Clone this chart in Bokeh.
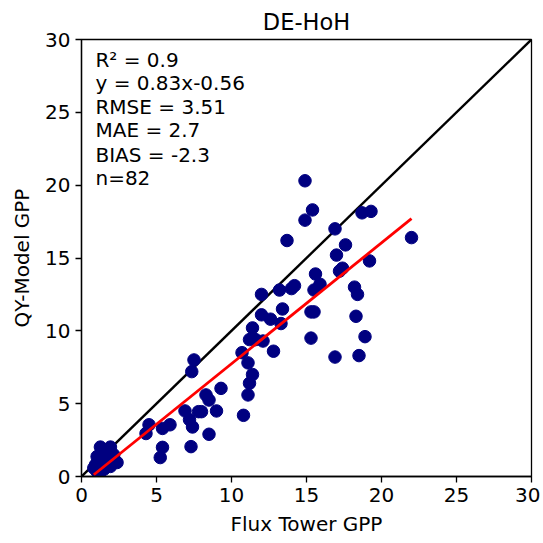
from bokeh.plotting import figure
from bokeh.models import Range1d, ColumnDataSource, FixedTicker
from bokeh.core.properties import value
from bokeh.embed import file_html
from bokeh.resources import INLINE

# Data
flux_gpp = [14.9, 15.4, 14.9, 13.7, 16.9, 18.7, 19.3, 17.6, 17.0, 19.2,
            15.6, 17.4, 17.2, 14.2, 14.0, 13.2, 15.9, 15.5, 18.2, 18.4,
            12.0, 13.4, 12.0, 12.6, 13.3, 15.3, 15.5, 11.4, 18.3, 11.2,
            11.6, 12.1, 15.3, 18.9, 10.7, 12.8, 16.9, 18.5, 22.0, 11.1,
            11.4, 11.2, 11.1, 10.8, 7.5, 7.35, 9.3, 8.3, 8.5, 9.0,
            8.0, 7.8, 6.9, 7.2, 7.4, 8.5, 7.3, 4.5, 4.3, 5.4,
            5.9, 5.4, 5.25,
            1.26, 1.93, 1.04, 1.48, 2.37, 1.93, 0.93, 1.37, 1.7, 1.04,
            0.82, 2.15, 1.6, 1.2, 1.5, 2.0, 1.1, 1.8, 1.3]
model_gpp = [20.3, 18.3, 17.6, 16.2, 17.0, 18.1, 18.2, 15.9, 15.2, 14.8,
             13.9, 14.3, 14.1, 13.1, 12.9, 12.8, 13.2, 12.8, 13.0, 12.5,
             12.5, 11.5, 11.1, 10.8, 10.5, 11.3, 11.3, 10.2, 11.0, 9.4,
             9.4, 9.3, 9.5, 9.6, 8.5, 8.6, 8.2, 8.3, 16.4, 7.8,
             7.0, 6.4, 5.6, 4.2, 8.0, 7.2, 6.05, 5.6, 5.25, 4.5,
             4.45, 4.45, 4.5, 3.9, 3.4, 2.9, 2.05, 3.55, 2.95, 3.3,
             3.55, 2.0, 1.3,
             2.02, 2.02, 1.37, 1.6, 0.96, 0.69, 0.8, 1.03, 1.26, 0.34,
             0.58, 1.49, 1.84, 0.2, 0.5, 1.1, 1.0, 0.9, 1.5]

slope = 0.83
intercept = -0.56
fit_x = [min(flux_gpp), max(flux_gpp)]
fit_y = [slope * v + intercept for v in fit_x]
one_to_one = [0, 30]

stat_lines = ["R\u00b2 = 0.9", "y = 0.83x-0.56", "RMSE = 3.51",
              "MAE = 2.7", "BIAS = -2.3", "n=82"]
stat_y = [28.6, 27.0, 25.4, 23.8, 22.1, 20.5]
stat_x = [0.93] * len(stat_lines)

ticks = [0, 5, 10, 15, 20, 25, 30]

FONT = "DejaVu Sans"

p = figure(width=540, height=540, output_backend="svg", toolbar_location=None,
           x_range=Range1d(0, 30), y_range=Range1d(0, 30),
           title="DE-HoH")
p.min_border_left = 81
p.min_border_right = 9
p.min_border_top = 39
p.min_border_bottom = 64

p.title.align = "center"
p.title.text_font = FONT
p.title.text_font_size = "22.5px"
p.title.text_font_style = "normal"
p.title.text_color = "black"

p.grid.visible = False
p.outline_line_color = "black"
p.outline_line_width = 1.3
p.background_fill_color = "white"
p.border_fill_color = "white"

for ax in (p.xaxis, p.yaxis):
    ax.ticker = FixedTicker(ticks=ticks)
    ax.minor_tick_line_color = None
    ax.major_tick_in = 0
    ax.major_tick_out = 6
    ax.major_tick_line_color = "black"
    ax.major_tick_line_width = 1.3
    ax.axis_line_color = "black"
    ax.axis_line_width = 1.3
    ax.major_label_text_font = FONT
    ax.major_label_text_font_size = "20px"
    ax.major_label_text_color = "black"
    ax.axis_label_text_font = FONT
    ax.axis_label_text_font_size = "20px"
    ax.axis_label_text_font_style = "normal"
    ax.axis_label_text_color = "black"

p.xaxis.axis_label = "Flux Tower GPP"
p.yaxis.axis_label = "QY-Model GPP"
p.xaxis.axis_label_standoff = 7
p.yaxis.axis_label_standoff = 8

p.line(one_to_one, one_to_one, line_color="black", line_width=2.4)
p.scatter(flux_gpp, model_gpp, size=12.5, fill_color="#000080",
          line_color="#000080")
p.line(fit_x, fit_y, line_color="red", line_width=2.8)

src = ColumnDataSource(dict(x=stat_x, y=stat_y, t=stat_lines))
p.text(x="x", y="y", text="t", source=src, text_font=value(FONT),
       text_font_size="20px", text_baseline="middle", text_align="left",
       text_color="black")

open("out.html", "w").write(file_html(p, INLINE))
